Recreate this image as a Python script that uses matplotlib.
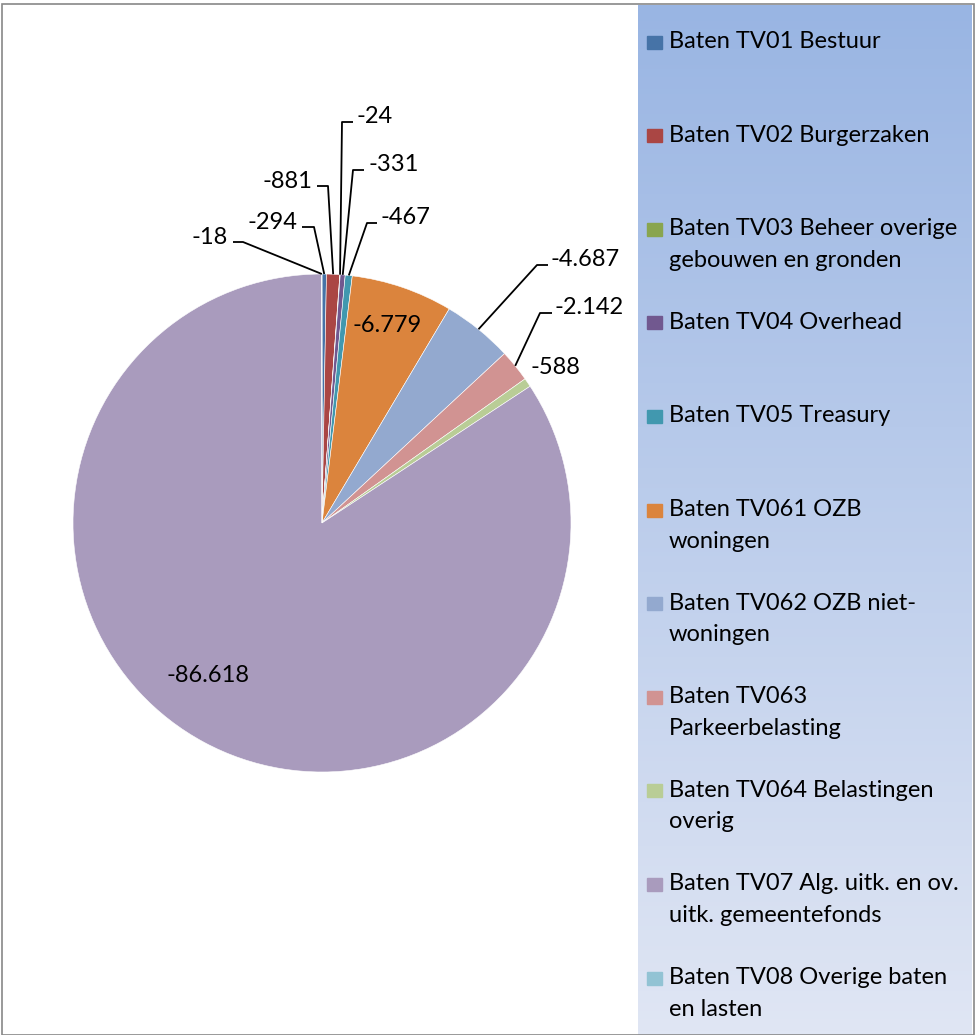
import numpy as np
import matplotlib.pyplot as plt

# data
labels = ["Baten TV01 Bestuur", "Baten TV02 Burgerzaken",
          "Baten TV03 Beheer overige\ngebouwen en gronden", "Baten TV04 Overhead",
          "Baten TV05 Treasury", "Baten TV061 OZB\nwoningen", "Baten TV062 OZB niet-\nwoningen",
          "Baten TV063\nParkeerbelasting", "Baten TV064 Belastingen\noverig",
          "Baten TV07 Alg. uitk. en ov.\nuitk. gemeentefonds", "Baten TV08 Overige baten\nen lasten"]
values = [-294, -881, -24, -331, -467, -6779, -4687, -2142, -588, -86618, -18]
value_text = ["-294", "-881", "-24", "-331", "-467", "-6.779", "-4.687", "-2.142", "-588", "-86.618", "-18"]
colors = ["#4673a7", "#aa4644", "#89a54e", "#71588f", "#4198af", "#db843d",
          "#93a9cf", "#d19392", "#b9cd96", "#a99bbd", "#92c3d4"]

plt.rcParams['font.family'] = ['Lato', 'DejaVu Sans']
W, H = 976, 1035
fig = plt.figure(figsize=(W / 100, H / 100), dpi=100)

# pie axes: centre (322,523) px, radius 249 px
cx, cy, R = 322, 523, 249
ax = fig.add_axes([0, 0, 636 / W, 1])

sizes = np.abs(values)
wedges, _ = ax.pie(sizes, colors=colors, startangle=90, counterclock=False, radius=1,
                   wedgeprops=dict(edgecolor='white', linewidth=0.4), normalize=True)
ax.set_xlim(-cx / R, (636 - cx) / R)
ax.set_ylim(-(H - cy) / R, cy / R)
ax.set_aspect('auto')
ax.axis('off')

def px(x, y):
    return (x - cx) / R, (cy - y) / R

def mid(i):
    w = wedges[i]
    a = np.deg2rad((w.theta1 + w.theta2) / 2)
    return np.cos(a), np.sin(a)

fs = 17
# labels with leader lines: (index, elbow px, line end px, text px, ha)
lead = [
    (10, (243, 242), (233, 242), (228, 237), 'right'),
    (0, (314, 227), (302, 227), (297, 222), 'right'),
    (1, (328, 186), (317, 186), (312, 181), 'right'),
    (2, (342, 122), (353, 122), (356, 116), 'left'),
    (3, (353, 170), (364, 170), (368, 164), 'left'),
    (4, (367, 223), (377, 223), (380, 217), 'left'),
    (6, (537, 265), (548, 265), (550, 259), 'left'),
    (7, (540, 313), (552, 313), (554, 307), 'left'),
]
for i, elbow, end, tpos, ha in lead:
    mx, my = mid(i)
    ex, ey = px(*elbow)
    fx, fy = px(*end)
    ax.plot([mx, ex, fx], [my, ey, fy], color='black', lw=1.3, solid_capstyle='butt')
    tx, ty = px(*tpos)
    ax.text(tx, ty, value_text[i], fontsize=fs, ha=ha, va='center')

for i, pos in [(8, (555, 367)), (5, (387, 325)), (9, (208, 675))]:
    tx, ty = px(*pos)
    ax.text(tx, ty, value_text[i], fontsize=fs, ha='center', va='center')

# legend panel with gradient
lx0, lx1, ly0 = 638, 972, 5
lax = fig.add_axes([lx0 / W, 0, (lx1 - lx0) / W, (H - ly0) / H])
lax.set_xlim(lx0, lx1)
lax.set_ylim(H, ly0)
grad = np.linspace(0, 1, 256).reshape(-1, 1)
top = np.array([0x99, 0xb5, 0xe3]) / 255
bot = np.array([0xe0, 0xe6, 0xf4]) / 255
img = top + (bot - top) * grad[..., None]
lax.imshow(img, extent=[lx0, lx1, H, ly0], aspect='auto', zorder=0)
lax.axis('off')

step = 93.6
for k, (lab, col) in enumerate(zip(labels, colors)):
    y = 42 + k * step
    lax.add_patch(plt.Rectangle((647, y - 6.5), 15, 13, color=col, zorder=2))
    lax.text(669, y - 11, lab, fontsize=fs, va='top', ha='left', linespacing=1.62, zorder=3)

# outer border
fig.add_artist(plt.Rectangle((2 / W, 0), (W - 4) / W, (H - 4) / H, transform=fig.transFigure,
                             fill=False, edgecolor='#888888', lw=1.2))

fig.savefig("out.png", dpi=100)
